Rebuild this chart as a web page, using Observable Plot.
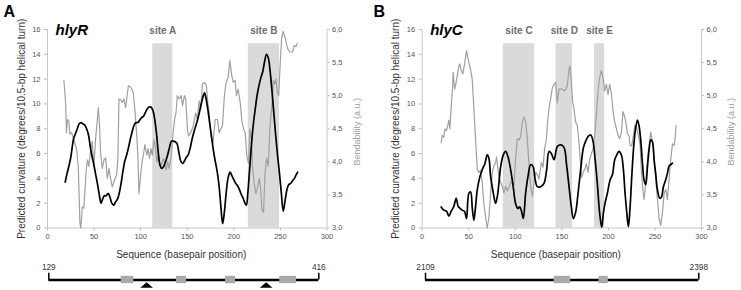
<!DOCTYPE html>
<html><head><meta charset="utf-8">
<script src="https://cdn.jsdelivr.net/npm/d3@7"></script>
<script src="https://cdn.jsdelivr.net/npm/@observablehq/plot@0.6"></script>
<style>
body{margin:0;background:#fff;}
#fig{position:relative;width:741px;height:290px;font-family:"Liberation Sans",Arial,sans-serif;}
#fig > div{position:absolute;}
</style></head><body><div id="fig"></div>
<script>
// ---- shared axis ticks and labels ----
const xTicks = [0, 50, 100, 150, 200, 250, 300];
const curvTicks = [0, 2, 4, 6, 8, 10, 12, 14, 16];
const bendTicks = [3.0, 3.5, 4.0, 4.5, 5.0, 5.5, 6.0];
const xTitle = "Sequence (basepair position)";
const yTitle = "Predicted curvature (degrees/10.5-bp helical turn)";
const y2Title = "Bendability (a.u.)";

// ---- panel A: hlyR ----
const hlyRCurvPos = [19,21,23,25,26.5,28,30,32,34,36,38,40,42,44,46,48,50,52,54,56,57.5,59,61,63,65,67,69,71,73,75,77,79,81,83,85,87,89,91,93,95,97,99,101,103,105,107,109,111,113,115,117,119,121,123,125,127,129,131,133,135,137,139,141,143,145,147,149,151,153,155,157,159,161,163,165,167,168.5,170,172,174,176,178,180,182,184,186,188,190,192,194,196,198,200,202,204,206,208,210,212,213.5,215,217,219,221,223,225,227,229,231,233,235,237,239,241,243,245,247,249,251,253,255,257,259,261,263,265,267,268.5];
const hlyRCurv = [3.7,4.4,5.0,5.7,6.5,7.2,7.6,8.0,8.4,8.5,8.4,8.3,8.0,7.5,6.5,5.7,5.0,4.2,3.4,2.5,2.0,2.3,2.6,2.6,2.8,2.5,2.0,1.85,2.1,2.3,2.8,3.6,4.6,5.4,5.9,6.5,7.2,7.8,8.3,8.5,8.5,8.7,8.9,9.0,9.3,9.6,9.75,9.75,9.5,8.8,7.6,6.0,5.0,4.8,5.0,5.4,5.9,6.5,7.0,7.0,6.95,6.8,6.1,5.4,5.2,5.4,5.7,5.9,6.4,7.1,7.7,8.2,8.7,9.3,10.0,10.6,10.9,10.5,9.6,8.5,7.4,6.3,5.4,4.6,3.5,1.8,0.35,1.4,3.0,4.1,4.5,4.2,3.9,3.6,3.4,3.1,2.7,2.4,2.0,1.85,2.8,4.8,6.8,8.4,9.6,10.7,11.5,12.1,12.6,13.4,14.0,13.7,12.6,11.0,9.2,7.4,5.8,4.4,2.8,1.35,2.2,3.1,3.5,3.6,3.8,4.0,4.3,4.5];
const hlyRBendPos = [17.6,19.4,20.4,21.5,22.9,24,25.8,28.3,31.2,33,34.8,35.8,37.3,39,41.6,43,44.4,45.9,48,49.8,51.6,53.4,54.5,55.9,57,58.8,60.6,62.4,64.2,66,67.7,69.5,72,74.2,75.6,76.7,79,80.5,82,83.9,85,86.8,89.2,92,93.9,95.7,97,98.2,100,101.5,103,104.6,106.6,108,109.5,111,112.5,114.3,116,117.5,119,121.5,123,124.5,126,127.6,129,130.5,132,133.5,134.8,136.5,138,139.4,141.2,143.5,145,147,148.4,150.2,151.3,153.8,156.3,159.1,160.9,162.7,164.5,166.3,168.8,170.6,172,173.5,175.3,177.8,179.9,182.4,184.2,186,187.8,189.6,191.4,193.9,195.7,197.5,199.3,201.4,202.8,204.6,206.8,208.6,210.4,212.2,214,215.8,217.3,219,220,221.8,223.7,225.5,227.3,228.7,230.1,231.9,233.3,235.1,237,238.8,240.9,242.4,243.8,245.3,246.7,248.2,249.5,251.3,253,255.2,257.7,260.2,263,264.8,266.6,268.1];
const hlyRBend = [5.23,4.9,4.44,4.64,4.62,4.42,4.44,4.34,4.19,3.93,3.07,3.0,3.32,3.3,3.88,4.03,3.93,4.13,4.31,3.93,4.34,4.62,4.82,4.54,4.13,3.9,4.03,4.06,3.75,3.9,3.75,3.62,3.73,3.8,4.06,4.95,4.93,4.9,4.95,4.82,4.95,5.15,5.13,5.05,4.77,4.42,4.1,3.52,3.8,4.0,4.11,4.26,4.1,4.2,4.05,4.2,4.1,4.34,4.2,4.0,4.1,3.9,4.0,4.05,3.95,3.88,4.0,3.9,4.0,4.2,4.44,4.65,4.75,5.0,4.95,5.0,4.85,5.0,4.95,4.5,4.39,4.44,4.54,4.74,4.64,4.92,4.8,5.18,5.2,5.15,4.9,4.74,4.39,4.29,4.64,4.64,4.44,4.5,4.54,4.95,5.18,5.28,5.53,5.33,5.2,5.23,5.0,5.1,4.9,4.62,4.5,4.44,4.08,3.98,4.5,4.34,3.93,3.68,3.52,3.62,3.75,3.6,3.27,3.24,3.78,4.06,3.93,4.54,4.85,5.23,5.18,5.25,5.05,5.0,5.41,5.87,5.97,5.87,5.71,5.66,5.66,5.76,5.74,5.79];
const hlyRSiteNames = ["site A", "site B"];
const hlyRSiteStart = [113, 215.5];
const hlyRSiteEnd = [134.5, 249];
const hlyRSpan = [129, 416];
const hlyRBoxStart = [206, 264.7, 316.8, 374.5];
const hlyRBoxEnd = [219.3, 275.4, 327.5, 392.3];
const hlyRTriangles = [233, 360];

// ---- panel B: hlyC ----
const hlyCCurvPos = [20.4,23.3,26.2,28.6,31.1,34,36.5,38.6,40.4,42.9,45.4,47.6,50.1,52,53.8,55.5,57.3,59.1,62,64.5,67.4,69.9,71.7,73.5,76.4,78.8,80.6,82.4,84.2,87.1,89.6,92.1,95,97.8,100.3,102.8,104.6,106.4,108.6,111.1,113.6,116.5,119,121.1,123.7,127.2,130.8,133.7,136.2,138.7,141.6,145.2,148.8,152.3,155.2,157.7,160.2,162.4,164.9,167.4,170.2,173.1,175.6,178.5,181,183.5,185.7,188.1,190.6,192.8,194.6,196.4,198.9,201.8,204.3,206.8,209,211.4,213.9,216.1,217.9,219.7,221.5,223.3,225.1,226.9,229,231.2,233,234.8,236.6,238.3,240.1,241.9,243.7,245.5,247.3,249.1,250.9,252.7,255.2,257,259.1,261.6,263.4,265.2,267,268.8];
const hlyCCurv = [1.7,1.44,1.35,0.95,1.35,1.75,2.4,1.75,1.6,1.44,1.35,0.76,2.79,2.9,1.6,0.62,1.7,3.06,4.14,4.7,5.2,5.9,5.6,4.14,2.8,1.98,2.5,3.6,4.9,5.9,6.17,5.76,4.7,3.3,1.98,1.57,1.7,1.44,0.76,2.8,4.14,5.1,4.97,4.0,3.33,3.33,3.6,4.7,6.17,6.0,5.5,6.58,6.7,6.5,5.0,3.33,1.7,0.76,1.3,2.8,4.7,6.45,7.0,7.4,7.5,7.0,5.55,3.6,1.2,0.05,1.2,2.0,2.8,3.87,4.3,5.5,5.9,6.17,5.9,4.7,2.8,1.3,0.1,1.7,4.14,6.3,7.9,8.7,8.2,7.0,5.2,3.87,3.5,4.9,6.3,7.1,6.95,5.5,4.3,3.06,2.4,2.5,3.33,3.9,4.4,5.0,5.1,5.22];
const hlyCBendPos = [20.4,21.5,23.3,24.4,26,27.5,28.6,29.7,31.1,32.6,33.3,34.8,36.2,37.6,39.4,40.4,41.9,43.7,45.5,47.6,49,50.5,51.9,53.7,55.5,57.3,59.1,60.9,62.7,64.5,66.2,68,69.9,71.7,73.5,75.3,77.1,78.8,79.9,81.3,82.8,84.2,86,87.8,89.6,91.4,93.2,95,96.8,98.6,100.3,102.1,104,105.7,107.5,109.3,111.1,112.9,114.7,116.5,118.3,120.1,121.9,123.7,125.4,126.5,128,129.8,131.5,133.3,134.4,136.2,138,139.8,141.5,143.3,145.1,146.9,148.7,150.5,152.3,154.1,155.9,157.6,158.7,160.1,161.6,163,164.8,166.6,168.4,170.2,171.3,172.8,174.6,176.3,178.1,179.9,181.7,183.5,185.3,187.1,188.9,190.6,192.4,194.2,196,197.8,199.6,201.4,203.2,205,206.8,208.6,210.4,212.2,214,215.7,217.5,219.3,220.4,222.2,223.3,225.1,226.9,228.3,230.5,232.3,234.1,235.5,237,238.3,239.8,241.2,242.7,244.1,245.5,247.3,249.1,250.9,252.7,254.5,256.2,258,259.9,261.6,263.4,265.2,267,268.8,270.6,271.6,272.7];
const hlyCBend = [4.29,4.4,4.37,4.5,4.47,4.55,4.63,4.5,4.81,5.12,5.35,5.1,5.18,5.3,5.45,5.48,5.38,5.33,5.48,5.68,5.58,5.48,5.4,5.25,4.81,4.35,3.89,3.84,3.87,3.69,3.37,3.17,3.0,3.17,3.53,3.84,3.94,3.99,4.07,3.89,3.74,3.69,3.63,3.53,3.63,3.56,3.61,3.69,3.69,3.66,4.04,4.35,4.33,4.38,4.6,4.68,4.6,4.35,3.94,3.63,3.48,3.69,3.84,3.81,3.74,3.84,3.99,3.92,4.2,4.33,4.55,4.81,4.96,5.12,5.17,5.2,4.89,5.1,5.1,5.1,5.07,5.09,5.15,5.4,5.45,5.22,4.91,4.81,4.6,4.55,4.3,3.94,3.76,3.84,3.89,3.97,3.84,4.04,4.12,4.2,4.4,4.71,5.07,5.27,5.38,5.27,5.07,5.17,5.02,5.17,5.04,4.76,4.6,4.5,4.4,4.35,4.45,4.76,4.68,4.55,4.42,4.4,4.25,4.24,4.4,4.55,4.5,4.4,4.25,3.84,3.58,3.43,3.63,3.89,4.14,4.3,4.45,4.3,4.04,3.74,3.43,3.14,3.04,3.22,3.53,3.58,3.43,3.74,4.04,4.27,4.25,4.35,4.55];
const hlyCSiteNames = ["site C", "site D", "site E"];
const hlyCSiteStart = [87.1, 143.7, 185];
const hlyCSiteEnd = [120.8, 161.6, 196];
const hlyCSpan = [2109, 2398];
const hlyCBoxStart = [2245, 2292.5];
const hlyCBoxEnd = [2262.5, 2302.3];
const hlyCTriangles = [];

// ---- helpers ----
const FONT = '"Liberation Sans", Arial, sans-serif';
const toY = b => (b - 3) * 16 / 3;           // bendability -> curvature axis units
const fromY = y => 3 + y * 3 / 16;
const fmtComma = y => fromY(y).toFixed(1).replace(".", ",");

const flatTriangle = {
  draw(ctx, size) {
    const r = Math.sqrt(size / Math.PI), h = r * 0.45;
    ctx.moveTo(0, -h); ctx.lineTo(r, h); ctx.lineTo(-r, h); ctx.closePath();
  }
};

function panel(o) {
  const curv = o.curvPos.map((x, i) => ({x, y: o.curv[i]}));
  const bend = o.bendPos.map((x, i) => ({x, y: toY(o.bend[i])}));
  const sites = o.siteNames.map((label, i) => ({label, start: o.siteStart[i], end: o.siteEnd[i]}));
  return Plot.plot({
    width: 370, height: 262,
    marginLeft: o.marginLeft, marginRight: o.marginRight, marginTop: 29, marginBottom: 34.5,
    style: {fontFamily: FONT, fontSize: "7.5px", background: "transparent", overflow: "visible"},
    x: {domain: [0, 300]},
    y: {domain: [0, 16]},
    marks: [
      Plot.rect(sites, {x1: "start", x2: "end", y1: 0, y2: 14.85, fill: "#dadada"}),
      Plot.ruleX([0, 300], {stroke: "#c8c8c8"}),
      Plot.ruleY([0], {stroke: "#c8c8c8"}),
      Plot.axisX({ticks: xTicks, tickSize: 3, tickPadding: 3, stroke: "#bbb", fill: "#555", label: null}),
      Plot.axisY({ticks: curvTicks, tickSize: 3, tickPadding: 4, stroke: "#bbb", fill: "#555", label: null}),
      Plot.axisY({anchor: "right", ticks: bendTicks.map(toY), tickFormat: fmtComma, tickSize: 2, tickPadding: 3, stroke: "#bbb", fill: "#555", label: null}),
      Plot.line(bend, {x: "x", y: "y", stroke: "#a0a0a0", strokeWidth: 1.2}),
      Plot.line(curv, {x: "x", y: "y", stroke: "#000", strokeWidth: 1.7, curve: "catmull-rom"}),
      Plot.text(sites, {x: d => (d.start + d.end) / 2, y: 16, dy: 1, text: "label", fontSize: 10, fontWeight: "bold", fill: "#6e6e6e"}),
      Plot.text([o.gene], {frameAnchor: "top-left", dx: 8, dy: 1, textAnchor: "start", lineAnchor: "middle", fontSize: 15, fontWeight: "bold", fontStyle: "italic", fill: "#000"}),
      Plot.text([o.letter], {frameAnchor: "top-left", dx: o.letterX - o.marginLeft, dy: -18, textAnchor: "start", lineAnchor: "middle", fontSize: 16, fontWeight: "bold", fill: "#000"}),
      Plot.text([yTitle], {frameAnchor: "left", rotate: -90, dx: -26, textAnchor: "middle", lineAnchor: "middle", fontSize: 10, fill: "#333"}),
      Plot.text([y2Title], {frameAnchor: "right", rotate: -90, dx: 30, dy: 3, textAnchor: "middle", lineAnchor: "middle", fontSize: 9, fill: "#a0a0a0"}),
      Plot.text([xTitle], {frameAnchor: "bottom", dx: -6, dy: 26.5, textAnchor: "middle", lineAnchor: "middle", fontSize: 10, fill: "#333"})
    ]
  });
}

function schematic(o) {
  const boxes = o.boxStart.map((s, i) => ({s, e: o.boxEnd[i]}));
  return Plot.plot({
    width: 370, height: 28,
    marginLeft: o.marginLeft, marginRight: o.marginRight, marginTop: 10, marginBottom: 3,
    style: {fontFamily: FONT, background: "transparent", overflow: "visible"},
    x: {domain: o.span, axis: null},
    y: {domain: [-1, 1], axis: null},
    marks: [
      Plot.ruleY([0], {x1: o.span[0], x2: o.span[1], stroke: "#000", strokeWidth: 2.6}),
      Plot.ruleX(o.span, {y1: 0, y2: 0.9, stroke: "#000", strokeWidth: 1.5}),
      Plot.rect(boxes, {x1: "s", x2: "e", y1: -0.49, y2: 0.49, fill: "#a9a9a9"}),
      Plot.dot(o.triangles, {x: d => d, y: -0.667, symbol: flatTriangle, r: 6.3, fill: "#000", stroke: null}),
      Plot.text(o.span, {x: d => d, y: 1.73, text: d => String(d), fontSize: 8.3, fill: "#333"})
    ]
  });
}

function place(node, left, top) {
  const d = document.createElement("div");
  d.style.left = left + "px"; d.style.top = top + "px";
  d.appendChild(node);
  document.getElementById("fig").appendChild(d);
}

place(panel({gene: "hlyR", letter: "A", letterX: 3, curvPos: hlyRCurvPos, curv: hlyRCurv, bendPos: hlyRBendPos, bend: hlyRBend,
  siteNames: hlyRSiteNames, siteStart: hlyRSiteStart, siteEnd: hlyRSiteEnd, marginLeft: 47, marginRight: 43.5}), 0, 0);
place(panel({gene: "hlyC", letter: "B", letterX: 2, curvPos: hlyCCurvPos, curv: hlyCCurv, bendPos: hlyCBendPos, bend: hlyCBend,
  siteNames: hlyCSiteNames, siteStart: hlyCSiteStart, siteEnd: hlyCSiteEnd, marginLeft: 50.7, marginRight: 40}), 371, 0);
place(schematic({span: hlyRSpan, boxStart: hlyRBoxStart, boxEnd: hlyRBoxEnd, triangles: hlyRTriangles, marginLeft: 48.3, marginRight: 51.7}), 0, 262);
place(schematic({span: hlyCSpan, boxStart: hlyCBoxStart, boxEnd: hlyCBoxEnd, triangles: hlyCTriangles, marginLeft: 54, marginRight: 42.7}), 371, 262);
</script></body></html>
